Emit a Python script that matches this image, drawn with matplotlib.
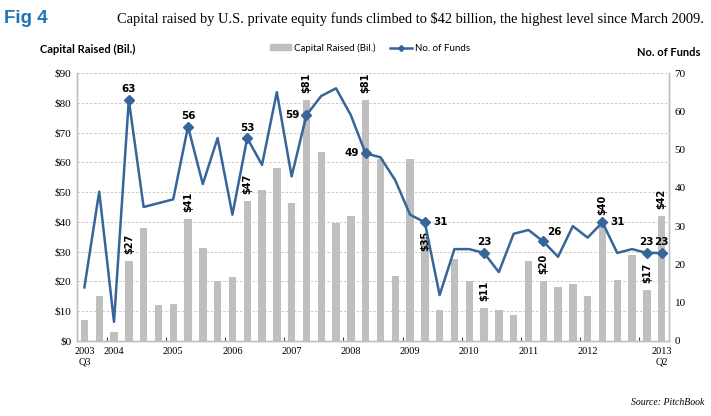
import numpy as np
import matplotlib
matplotlib.use('Agg')
import matplotlib.pyplot as plt
from matplotlib.patches import Patch
from matplotlib.lines import Line2D

# quarterly data, 2003 Q3 .. 2013 Q2
capital = [7, 15, 3, 27, 38, 12, 12.3, 41, 31.3, 20,
           21.4, 47, 50.7, 58, 46.2, 81, 63.4, 39.5, 42, 81,
           61, 21.8, 61.2, 35, 10.4, 27.5, 20, 11, 10.4, 8.7,
           27, 20, 18, 19.1, 15.1, 40, 20.6, 29, 17, 42]
funds = [14, 39, 5, 63, 35, 36, 37, 56, 41, 53,
         33, 53, 46, 65, 43, 59, 64, 66, 59, 49,
         48, 42, 33, 31, 12, 24, 24, 23, 18, 28,
         29, 26, 22, 30, 27, 31, 23, 24, 23, 23]
bar_label_idx = [3, 7, 11, 15, 19, 23, 27, 31, 35, 38, 39]
line_label_idx = [3, 7, 11, 15, 19, 23, 27, 31, 35, 38, 39]
tick_labels = ['2003\nQ3', '2004', '2005', '2006', '2007', '2008', '2009',
               '2010', '2011', '2012', '2013\nQ2']
tick_idx = [0, 2, 6, 10, 14, 18, 22, 26, 30, 34, 39]

bar_color = '#BFBFBF'
line_color = '#36659A'
grey = '#BFBFBF'

x = np.arange(len(capital))

fig = plt.figure(figsize=(7.11, 4.16), dpi=100)
ax = fig.add_axes([0.1083, 0.1803, 0.8327, 0.6442])
ax2 = ax.twinx()

ax.bar(x, capital, width=0.5, color=bar_color, zorder=2)
ax.set_ylim(0, 90)
ax.set_xlim(-0.5, len(capital) - 0.5)
ax.set_yticks(range(0, 91, 10))
ax.set_yticklabels(['$%d' % v for v in range(0, 91, 10)],
                   fontfamily='Liberation Serif', fontsize=8)
ax.yaxis.grid(True, linestyle=(0, (3, 2)), color='#C4C4C4', linewidth=0.6, zorder=0)
ax.set_axisbelow(True)
ax.tick_params(axis='y', length=0, pad=4)

# year labels at Q1 positions, small ticks between Q4 and Q1
ax.set_xticks(tick_idx)
ax.set_xticklabels(tick_labels, fontfamily='Liberation Serif', fontsize=7.5,
                   linespacing=1.3)
ax.tick_params(axis='x', length=0, pad=4)
ax.set_xticks(np.arange(1.5, 38, 4), minor=True)
ax.tick_params(axis='x', which='minor', direction='in', length=3, width=0.8, color='#404040')

for i in bar_label_idx:
    if i == 23:
        ax.annotate('$%d' % round(capital[i]), (x[i], capital[i]), xytext=(0, -3),
                    textcoords='offset points', rotation=90, ha='center', va='center',
                    fontsize=7, fontweight='bold', family='DejaVu Sans', zorder=5)
    else:
        ax.annotate('$%d' % round(capital[i]), (x[i], capital[i]), xytext=(0, 5),
                    textcoords='offset points', rotation=90, ha='center', va='bottom',
                    fontsize=7, fontweight='bold', family='DejaVu Sans', zorder=5)

ax2.plot(x, funds, color=line_color, linewidth=1.8, zorder=3)
ax2.plot(x[line_label_idx], [funds[i] for i in line_label_idx], linestyle='none',
         marker='D', markersize=5, color=line_color, zorder=4)
ax2.set_ylim(0, 70)
ax2.set_yticks(range(0, 71, 10))
ax2.set_yticklabels([str(v) for v in range(0, 71, 10)],
                    fontfamily='Liberation Serif', fontsize=8)
ax2.tick_params(axis='y', length=0, pad=4)

for i in line_label_idx:
    if i in (15, 19):
        off, ha, va = (-5, 0), 'right', 'center'
    elif i in (23, 35):
        off, ha, va = (6, 0), 'left', 'center'
    elif i == 31:
        off, ha, va = (3, 3), 'left', 'bottom'
    else:
        off, ha, va = (0, 4), 'center', 'bottom'
    ax2.annotate(str(funds[i]), (x[i], funds[i]), xytext=off, textcoords='offset points',
                 ha=ha, va=va, fontsize=7.5, fontweight='bold', family='DejaVu Sans')

for a in (ax, ax2):
    a.spines['top'].set_visible(False)
    for s in ('left', 'right', 'bottom'):
        a.spines[s].set_color(grey)
        a.spines[s].set_linewidth(1)

# titles
fig.text(0.006, 0.955, 'Fig 4', color='#1B75BB', fontsize=13.5, fontweight='bold',
         family='Liberation Sans', va='center')
fig.text(0.164, 0.955, 'Capital raised by U.S. private equity funds climbed to $42 billion, '
         'the highest level since March 2009.', fontsize=10.35, family='Liberation Serif',
         va='center')
fig.text(0.056, 0.882, 'Capital Raised (Bil.)', fontsize=8, fontweight='bold',
         family='Lato', va='center')
fig.text(0.985, 0.875, 'No. of Funds', fontsize=8, fontweight='bold',
         family='Lato', va='center', ha='right')
fig.text(0.99, 0.033, 'Source: PitchBook', fontsize=7, style='italic',
         family='Liberation Serif', ha='right', va='center')

handles = [Patch(color=bar_color),
           Line2D([], [], color=line_color, marker='D', markersize=3, linewidth=1.8)]
fig.legend(handles, ['Capital Raised (Bil.)', 'No. of Funds'], loc='center',
           bbox_to_anchor=(0.52, 0.885), ncol=2, frameon=False,
           prop={'family': 'Lato', 'size': 7}, handlelength=2.2, handleheight=0.5,
           columnspacing=1.5, handletextpad=0.3)

fig.savefig('out.png', dpi=100)
